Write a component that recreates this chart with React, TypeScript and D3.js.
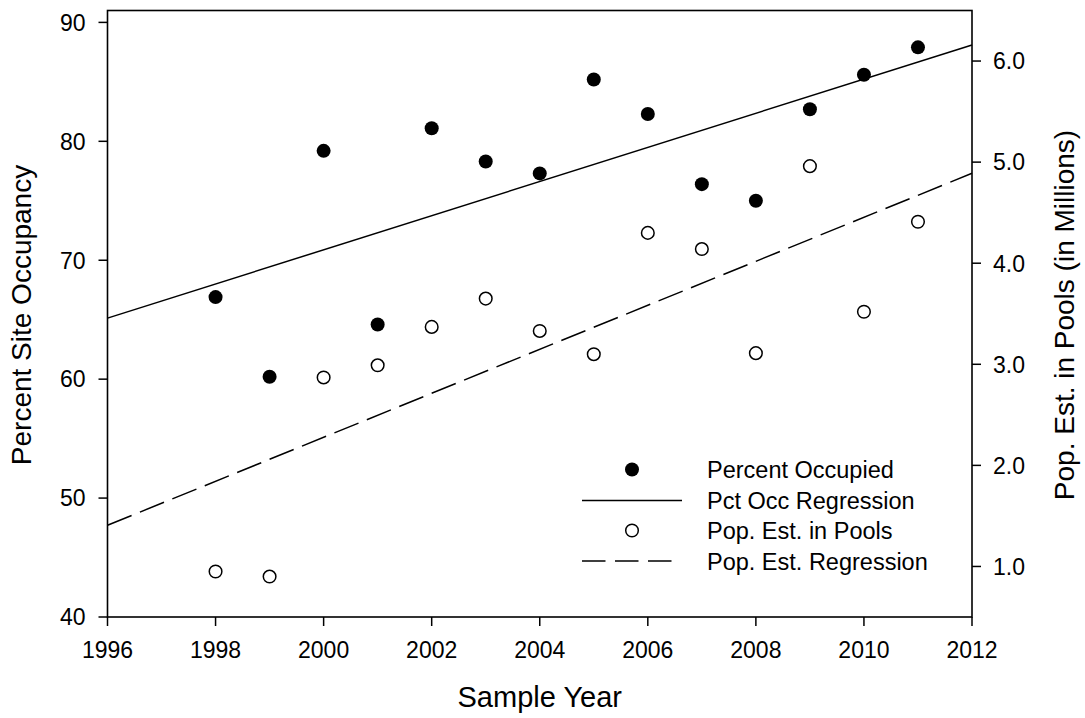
import React from "react";
import * as d3 from "d3";

const years = [1998, 1999, 2000, 2001, 2002, 2003, 2004, 2005, 2006, 2007, 2008, 2009, 2010, 2011];
const pctOccupied = [66.9, 60.2, 79.2, 64.6, 81.1, 78.3, 77.3, 85.2, 82.3, 76.4, 75.0, 82.7, 85.6, 87.9];
const popEstimate = [0.95, 0.9, 2.87, 2.99, 3.37, 3.65, 3.33, 3.1, 4.3, 4.14, 3.11, 4.96, 3.52, 4.41];
const xTicks = [1996, 1998, 2000, 2002, 2004, 2006, 2008, 2010, 2012];
const leftTicks = [40, 50, 60, 70, 80, 90];
const rightTicks = [1, 2, 3, 4, 5, 6];
const legendLabels = ["Percent Occupied", "Pct Occ Regression", "Pop. Est. in Pools", "Pop. Est. Regression"];

function ols(xs: number[], ys: number[]) {
  const mx = d3.mean(xs) as number;
  const my = d3.mean(ys) as number;
  let sxy = 0, sxx = 0;
  xs.forEach((x, i) => { sxy += (x - mx) * (ys[i] - my); sxx += (x - mx) * (x - mx); });
  const b = sxy / sxx;
  return (x: number) => my + b * (x - mx);
}

export default function App() {
  const W = 1085, H = 718;
  const x = d3.scaleLinear().domain([1996, 2012]).range([107.5, 972]);
  const yL = d3.scaleLinear().domain([40, 91]).range([617, 10.5]);
  const yR = d3.scaleLinear().domain([0.5, 6.5]).range([617, 10.5]);
  const font = "'Liberation Sans', Arial, Helvetica, sans-serif";

  const fitOcc = ols(years, pctOccupied);
  const fitPop = ols(years, popEstimate);
  const ends = [1996, 2012];
  const lineL = d3.line<number>().x(d => x(d)).y(d => yL(fitOcc(d)));
  const lineR = d3.line<number>().x(d => x(d)).y(d => yR(fitPop(d)));

  const [x0, x1] = x.range();
  const [yb, yt] = yL.range();

  const legX = 632, legLineX0 = 582, legLineX1 = 682, legTextX = 707;
  const legY = [469.5, 500.5, 530.5, 561];
  const tickFs = 23;
  const legFs = 23.5;

  return (
    <svg width={W} height={H} style={{ position: "absolute", left: 0, top: 0, background: "#fff" }} fontFamily={font}>
      <rect x={0} y={0} width={W} height={H} fill="#fff" />
      {/* regression lines */}
      <path d={lineL(ends) || ""} fill="none" stroke="#000" strokeWidth={1.5} />
      <path d={lineR(ends) || ""} fill="none" stroke="#000" strokeWidth={1.5} strokeDasharray="26 9" />
      {/* points */}
      {years.map((yr, i) => (
        <circle key={"o" + yr} cx={x(yr)} cy={yR(popEstimate[i])} r={6.3} fill="#fff" stroke="#000" strokeWidth={1.5} />
      ))}
      {years.map((yr, i) => (
        <circle key={"f" + yr} cx={x(yr)} cy={yL(pctOccupied[i])} r={7} fill="#000" />
      ))}
      {/* frame */}
      <rect x={x0} y={yt} width={x1 - x0} height={yb - yt} fill="none" stroke="#000" strokeWidth={1.6} />
      {/* bottom ticks */}
      {xTicks.map(t => (
        <g key={"xt" + t}>
          <line x1={x(t)} x2={x(t)} y1={yb} y2={yb + 9} stroke="#000" strokeWidth={1.5} />
          <text x={x(t)} y={658} textAnchor="middle" fontSize={tickFs}>{t}</text>
        </g>
      ))}
      {/* left ticks */}
      {leftTicks.map(t => (
        <g key={"lt" + t}>
          <line x1={x0 - 9} x2={x0} y1={yL(t)} y2={yL(t)} stroke="#000" strokeWidth={1.5} />
          <text x={x0 - 22} y={yL(t) + 8.3} textAnchor="end" fontSize={tickFs}>{t}</text>
        </g>
      ))}
      {/* right ticks */}
      {rightTicks.map(t => (
        <g key={"rt" + t}>
          <line x1={x1} x2={x1 + 9} y1={yR(t)} y2={yR(t)} stroke="#000" strokeWidth={1.5} />
          <text x={x1 + 21} y={yR(t) + 8.3} textAnchor="start" fontSize={tickFs}>{t.toFixed(1)}</text>
        </g>
      ))}
      {/* axis titles */}
      <text x={(x0 + x1) / 2} y={707} textAnchor="middle" fontSize={29}>Sample Year</text>
      <text transform="translate(31,315) rotate(-90)" textAnchor="middle" fontSize={28}>Percent Site Occupancy</text>
      <text transform="translate(1074,315) rotate(-90)" textAnchor="middle" fontSize={28}>Pop. Est. in Pools (in Millions)</text>
      {/* legend */}
      <circle cx={legX} cy={legY[0]} r={7} fill="#000" />
      <line x1={legLineX0} x2={legLineX1} y1={legY[1]} y2={legY[1]} stroke="#000" strokeWidth={1.5} />
      <circle cx={legX} cy={legY[2]} r={6.3} fill="#fff" stroke="#000" strokeWidth={1.5} />
      <line x1={legLineX0} x2={672} y1={legY[3]} y2={legY[3]} stroke="#000" strokeWidth={1.5} strokeDasharray="23.5 9.5" />
      {legendLabels.map((s, i) => (
        <text key={s} x={legTextX} y={legY[i] + 8.5} fontSize={legFs}>{s}</text>
      ))}
    </svg>
  );
}
